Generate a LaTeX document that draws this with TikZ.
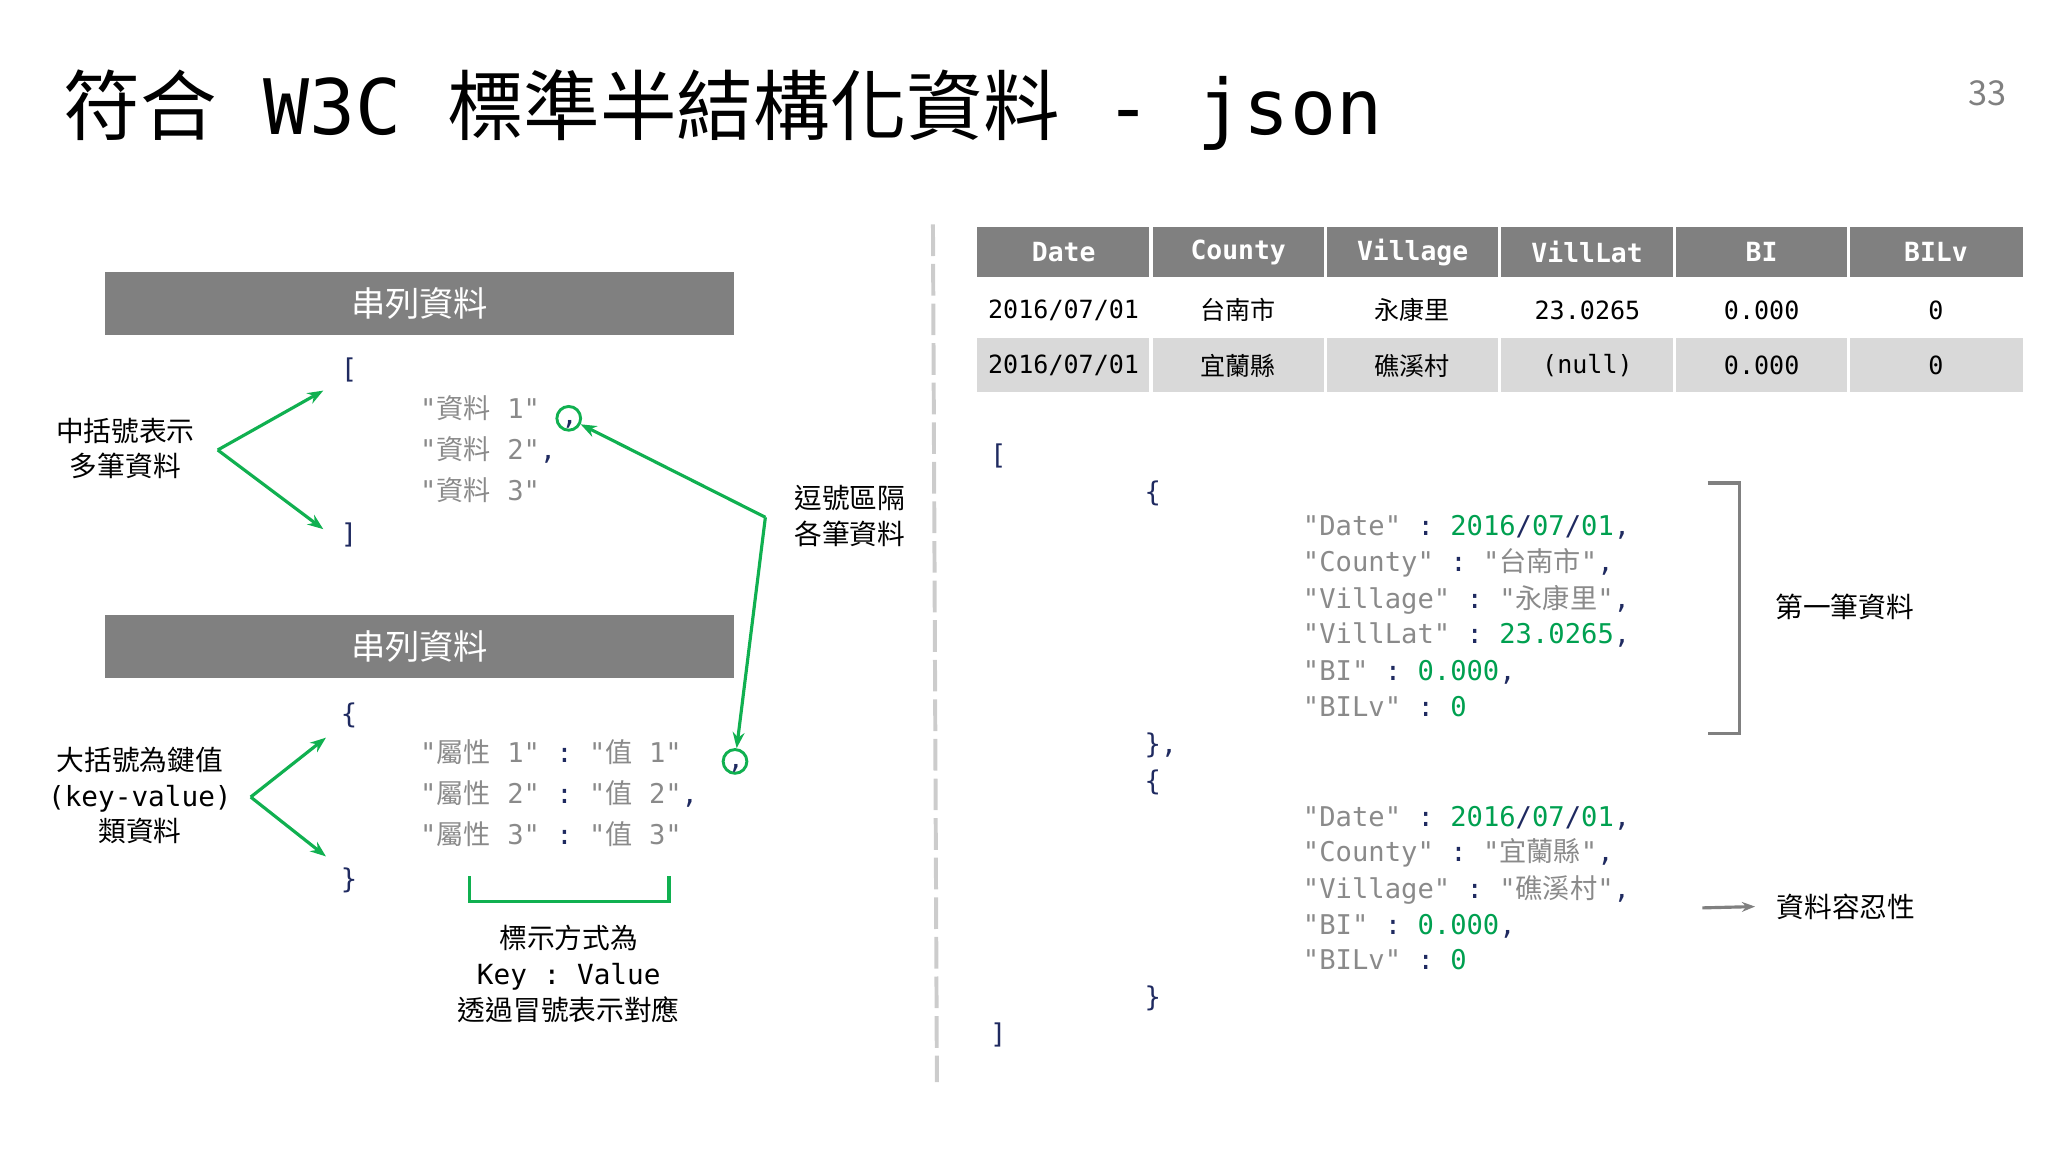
\documentclass[tikz,border=0pt]{standalone}
\usepackage{fontspec}
\setmainfont{Noto Sans CJK TC}
\setmonofont{DejaVu Sans Mono}
\newfontfamily\cjk{Noto Sans CJK TC}
\newcommand\cj[1]{{\cjk #1}}
\usetikzlibrary{arrows.meta}
\definecolor{gbar}{HTML}{808080}
\definecolor{rowgray}{HTML}{D9D9D9}
\definecolor{kgray}{HTML}{8A8A8A}
\definecolor{navy}{HTML}{1F2A60}
\definecolor{vgreen}{HTML}{00A050}
\definecolor{agreen}{HTML}{10B050}
\begin{document}
\begin{tikzpicture}[x=0.5pt,y=-0.5pt,
  code/.style={anchor=base west,inner sep=0pt,font=\ttfamily\fontsize{10.3}{12}\selectfont,text=kgray},
  brk/.style={anchor=base west,inner sep=0pt,font=\ttfamily\fontsize{10.3}{12}\selectfont,text=navy},
  lbl/.style={align=center,font=\fontsize{10.5}{13.5}\selectfont,inner sep=0pt},
  bar/.style={fill=gbar,minimum width=238.5pt,minimum height=24pt,inner sep=0pt,text=white,font=\fontsize{13}{15}\selectfont},
  garr/.style={agreen,line width=1.2pt,-{Stealth[length=6pt]}},
  circ/.style={circle,draw=agreen,line width=1.1pt,minimum size=9pt,inner sep=0pt},
  th/.style={fill=gbar,minimum width=65.6pt,minimum height=19pt,inner sep=0pt,text=white,font=\ttfamily\bfseries\fontsize{10}{12}\selectfont},
  td/.style={minimum width=65.6pt,minimum height=21pt,inner sep=0pt,font=\fontsize{9.5}{12}\selectfont},
  tdm/.style={td,font=\ttfamily\fontsize{9.5}{12}\selectfont},
]
\useasboundingbox (0,0) rectangle (1552,873);
\newcommand\g[1]{\textcolor{vgreen}{#1}}
\newcommand\n[1]{\textcolor{navy}{#1}}
% title
\node[anchor=base west,inner sep=0pt,font=\fontsize{29}{32}\selectfont] (title) at (48,102) {\cj{符合}\ttfamily{} W3C \cj{標準半結構化資料}\ttfamily{} - json};
\node[anchor=base,inner sep=0pt,text=gray,font=\fontsize{13}{15}\selectfont] (pg) at (1506,80) {33};
% divider
\draw[gray!40,line width=1.5pt,dash pattern=on 12pt off 3pt] (707,170) -- (710,820);
% bars
\node[bar] (b1) at (318,230) {串列資料};
\node[bar] (b2) at (318,490) {串列資料};
% top list
\node[brk] (o1) at (258,287) {[};
\node[code] (l1) at (318,317) {"\cj{資料} 1"};
\node[code] (l2) at (318,348) {"\cj{資料} 2"\n{,}};
\node[code] (l3) at (318,379) {"\cj{資料} 3"};
\node[brk] (c1) at (258,412) {]};
\node[circ] (ci1) at (431,317) {};
\node[brk] at (425,322) {,};
\node[lbl] (t1) at (95,340) {中括號表示\\多筆資料};
\coordinate (a1) at (165,341);
\draw[garr] (a1) -- (245,296);
\draw[garr] (a1) -- (245,401);
% second list
\node[brk] (o2) at (258,548) {\{};
\node[code] (m1) at (318,578) {"\cj{屬性} 1" \n{:} "\cj{值} 1"};
\node[code] (m2) at (318,609) {"\cj{屬性} 2" \n{:} "\cj{值} 2"\n{,}};
\node[code] (m3) at (318,640) {"\cj{屬性} 3" \n{:} "\cj{值} 3"};
\node[brk] (c2) at (258,673) {\}};
\node[circ] (ci2) at (557,577) {};
\node[brk] at (551,582) {,};
\node[lbl] (t2) at (106,603) {大括號為鍵值\\\ttfamily(key-value)\\類資料};
\coordinate (a2) at (190,604);
\draw[garr] (a2) -- (247,559);
\draw[garr] (a2) -- (247,649);
% bracket below
\draw[agreen,line width=1.3pt] (356,664) -- (356,683) -- (507,683) -- (507,664);
\node[lbl] (t3) at (431,738) {標示方式為\\\ttfamily Key : Value\\透過冒號表示對應};
% comma note
\node[lbl] (t4) at (644,391) {逗號區隔\\各筆資料};
\coordinate (a3) at (580,392);
\draw[garr] (a3) -- (ci1);
\draw[garr] (a3) -- (ci2);
% table
\foreach \h [count=\i] in {Date,County,Village,VillLat,BI,BILv}{
  \node[th] (h\i) at ({740+132.2*(\i-1)+66.1},191) {\h};}
\fill[rowgray] (740,256) rectangle (1533,297);
\foreach \i in {1,...,5}{ \draw[white,line width=1.2pt] ({740+132.2*\i},172) -- ({740+132.2*\i},297);}
\node[tdm] (r11) at (806,235) {2016/07/01};
\node[td] (r12) at (938,235) {台南市};
\node[td] (r13) at (1070,235) {永康里};
\node[tdm] (r14) at (1203,235) {23.0265};
\node[tdm] (r15) at (1335,235) {0.000};
\node[tdm] (r16) at (1467,235) {0};
\node[tdm] (r21) at (806,277) {2016/07/01};
\node[td] (r22) at (938,277) {宜蘭縣};
\node[td] (r23) at (1070,277) {礁溪村};
\node[tdm] (r24) at (1203,277) {(null)};
\node[tdm] (r25) at (1335,277) {0.000};
\node[tdm] (r26) at (1467,277) {0};
% right json
\node[brk] (o3) at (750,352) {[};
\node[brk] (o4) at (867,380) {\{};
\node[code] (j1) at (987,406) {"Date" \n{:} \g{2016}\n{/}\g{07}\n{/}\g{01}\n{,}};
\node[code] (j2) at (987,433) {"County" \n{:} "\cj{台南市}"\n{,}};
\node[code] (j3) at (987,461) {"Village" \n{:} "\cj{永康里}"\n{,}};
\node[code] (j4) at (987,488) {"VillLat" \n{:} \g{23.0265}\n{,}};
\node[code] (j5) at (987,516) {"BI" \n{:} \g{0.000}\n{,}};
\node[code] (j6) at (987,543) {"BILv" \n{:} \g{0}};
\node[brk] (c4) at (867,571) {\},};
\node[brk] (o5) at (867,599) {\{};
\node[code] (k1) at (987,626) {"Date" \n{:} \g{2016}\n{/}\g{07}\n{/}\g{01}\n{,}};
\node[code] (k2) at (987,653) {"County" \n{:} "\cj{宜蘭縣}"\n{,}};
\node[code] (k3) at (987,681) {"Village" \n{:} "\cj{礁溪村}"\n{,}};
\node[code] (k4) at (987,708) {"BI" \n{:} \g{0.000}\n{,}};
\node[code] (k5) at (987,735) {"BILv" \n{:} \g{0}};
\node[brk] (c5) at (867,763) {\}};
\node[brk] (c3) at (750,791) {]};
\draw[gray,line width=1.2pt] (1294,366) -- (1318,366) -- (1318,556) -- (1294,556);
\node[lbl] (t5) at (1398,460) {第一筆資料};
\node[lbl,anchor=west] (t6) at (1346,687) {資料容忍性};
\coordinate (a4) at (1290,688);
\draw[gray,line width=1.2pt,-{Stealth[length=5pt]}] (a4) -- ([xshift=-8pt]t6.west);
\end{tikzpicture}
\end{document}
